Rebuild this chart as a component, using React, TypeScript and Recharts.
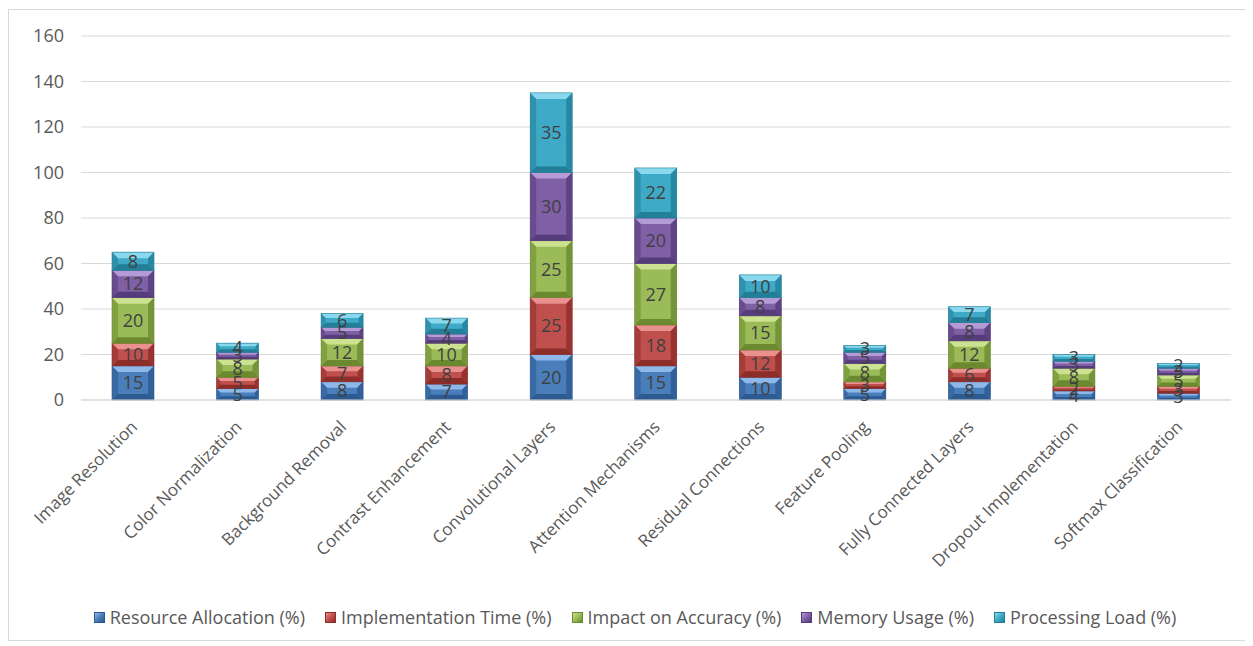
import {
  BarChart,
  Bar,
  XAxis,
  YAxis,
  CartesianGrid,
  Legend,
  LabelList,
} from "recharts";

const categories = [
  "Image Resolution",
  "Color Normalization",
  "Background Removal",
  "Contrast Enhancement",
  "Convolutional Layers",
  "Attention Mechanisms",
  "Residual Connections",
  "Feature Pooling",
  "Fully Connected Layers",
  "Dropout Implementation",
  "Softmax Classification",
];

const resourceAllocation = [15, 5, 8, 7, 20, 15, 10, 5, 8, 4, 3];
const implementationTime = [10, 5, 7, 8, 25, 18, 12, 3, 6, 2, 3];
const impactOnAccuracy = [20, 8, 12, 10, 25, 27, 15, 8, 12, 8, 5];
const memoryUsage = [12, 3, 5, 4, 30, 20, 8, 5, 8, 3, 3];
const processingLoad = [8, 4, 6, 7, 35, 22, 10, 3, 7, 3, 2];

const yTicks = [0, 20, 40, 60, 80, 100, 120, 140, 160];

const series = [
  { key: "resource", name: "Resource Allocation (%)", values: resourceAllocation, color: "#4A7EBB", light: "#8fb8ea", dark: "#2c5a91" },
  { key: "implementation", name: "Implementation Time (%)", values: implementationTime, color: "#C0504D", light: "#e8918e", dark: "#8c2d2a" },
  { key: "accuracy", name: "Impact on Accuracy (%)", values: impactOnAccuracy, color: "#9BBB59", light: "#cde290", dark: "#6b8a30" },
  { key: "memory", name: "Memory Usage (%)", values: memoryUsage, color: "#7F5FA6", light: "#b59bd6", dark: "#553c7a" },
  { key: "processing", name: "Processing Load (%)", values: processingLoad, color: "#3FAAC8", light: "#8ad8ee", dark: "#237e98" },
];

const data = categories.map((name, i) => {
  const row: any = { name };
  series.forEach((s) => {
    row[s.key] = s.values[i];
  });
  return row;
});

const font = "'Open Sans', sans-serif";

// bevelled segment like the Office 2007 chart style
const BevelBar = (props: any) => {
  const { x, y, width, height, s } = props;
  if (!height || height <= 0) return null;
  const b = Math.min(6, height / 3, width / 4);
  const r = x + width;
  const btm = y + height;
  return (
    <g>
      <rect x={x} y={y} width={width} height={height} fill={s.color} />
      <polygon points={`${x},${y} ${r},${y} ${r - b},${y + b} ${x + b},${y + b}`} fill={s.light} />
      <polygon points={`${x},${btm} ${r},${btm} ${r - b},${btm - b} ${x + b},${btm - b}`} fill={s.dark} />
      <polygon points={`${x},${y} ${x + b},${y + b} ${x + b},${btm - b} ${x},${btm}`} fill={s.dark} opacity={0.55} />
      <polygon points={`${r},${y} ${r - b},${y + b} ${r - b},${btm - b} ${r},${btm}`} fill={s.dark} opacity={0.8} />
      <rect x={x} y={y} width={width} height={height} fill="none" stroke={s.dark} strokeWidth={0.6} />
    </g>
  );
};

const CategoryTick = (props: any) => {
  const { x, y, payload } = props;
  return (
    <text
      x={0}
      y={0}
      transform={`translate(${x + 5},${y + 20}) rotate(-45)`}
      textAnchor="end"
      fontSize={17}
      fontFamily={font}
      fill="#595959"
    >
      {payload.value}
    </text>
  );
};

const LegendContent = () => (
  <div
    style={{
      display: "flex",
      justifyContent: "center",
      fontFamily: font,
      fontSize: 18,
      lineHeight: "22px",
      color: "#595959",
      gap: 20,
      paddingLeft: 30,
    }}
  >
    {series.map((s) => (
      <span key={s.key} style={{ display: "flex", alignItems: "center" }}>
        <span
          style={{
            display: "inline-block",
            width: 9,
            height: 9,
            marginRight: 5,
            background: `linear-gradient(135deg, ${s.light}, ${s.color} 50%, ${s.dark})`,
            border: `1px solid ${s.dark}`,
          }}
        />
        {s.name}
      </span>
    ))}
  </div>
);

export default function App() {
  return (
    <div
      style={{
        width: 1237,
        height: 630,
        border: "1px solid #d9d9d9",
        background: "#fff",
        marginTop: 1,
      }}
    >
      <BarChart
        width={1237}
        height={630}
        data={data}
        margin={{ top: 26, right: 15, left: 0, bottom: 12 }}
        barSize={42}
      >
        <CartesianGrid vertical={false} stroke="#d9d9d9" />
        <XAxis
          dataKey="name"
          interval={0}
          height={206}
          tick={<CategoryTick />}
          tickLine={false}
          axisLine={{ stroke: "#d9d9d9" }}
        />
        <YAxis
          width={72}
          domain={[0, 160]}
          ticks={yTicks}
          tickLine={false}
          axisLine={false}
          tickMargin={11}
          tick={{ fontSize: 18, fill: "#595959", fontFamily: font }}
        />
        <Legend verticalAlign="bottom" content={<LegendContent />} />
        {series.map((s) => (
          <Bar
            key={s.key}
            dataKey={s.key}
            name={s.name}
            stackId="a"
            fill={s.color}
            shape={(p: any) => <BevelBar {...p} s={s} />}
            isAnimationActive={false}
          >
            <LabelList
              dataKey={s.key}
              position="center"
              fill="#404040"
              fontSize={18}
              fontFamily={font}
            />
          </Bar>
        ))}
      </BarChart>
    </div>
  );
}
